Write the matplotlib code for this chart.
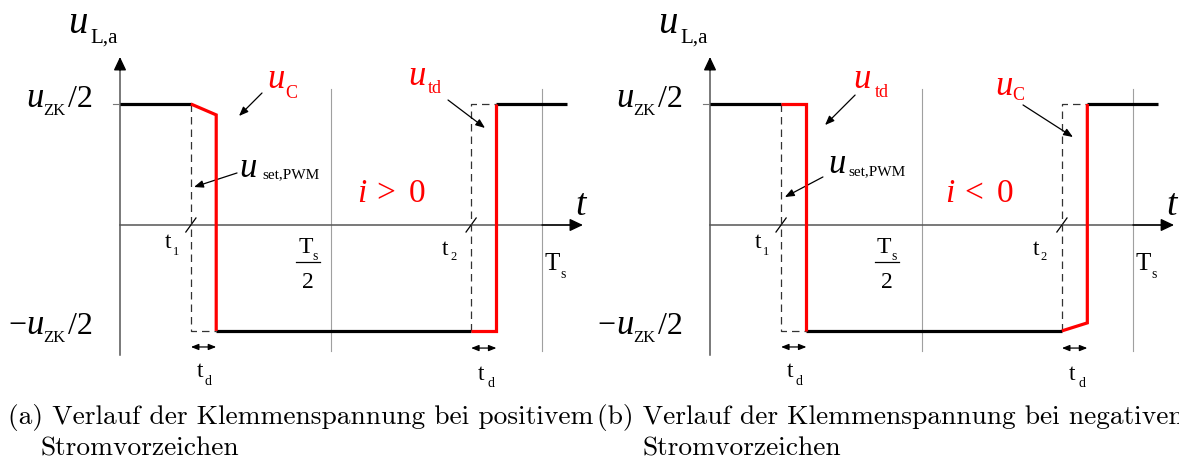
import matplotlib
matplotlib.use("Agg")
import matplotlib.pyplot as plt

SERIF = 'Liberation Serif'
RED = '#ff0000'

# ---------------- data (time in units of T_s, voltage in units of u_ZK/2) ----------------
T_S = 1.0
T1 = 0.168
T2 = 0.832
TD = 0.06
T_END = 1.059
U_HI = 1.0
U_LO = -0.875
UC_DROP_POS = 0.09     # change of u_C during t_d for i > 0
UC_RISE_NEG = 0.066    # change of u_C during t_d for i < 0

# black (ideal) segments, identical in both panels
black_t = [[0.0, T1], [T1 + TD, T2], [T2 + TD, T_END]]
black_u = [[U_HI, U_HI], [U_LO, U_LO], [U_HI, U_HI]]
# dashed set signal u_set,PWM
set_t = [[T1, T1, T1 + TD], [T2, T2, T2 + TD]]
set_u = [[U_HI, U_LO, U_LO], [U_LO, U_HI, U_HI]]
# red error segments
pos_red_t = [[T1, T1 + TD, T1 + TD], [T2, T2 + TD, T2 + TD]]
pos_red_u = [[U_HI, U_HI - UC_DROP_POS, U_LO], [U_LO, U_LO, U_HI]]
neg_red_t = [[T1, T1 + TD, T1 + TD], [T2, T2 + TD, T2 + TD]]
neg_red_u = [[U_HI, U_HI, U_LO], [U_LO, U_LO + UC_RISE_NEG, U_HI]]

current_rel = ['>', '<']
first_red = [('u', 'C'), ('u', 'td')]
second_red = [('u', 'td'), ('u', 'C')]
captions = [("(a) Verlauf der Klemmenspannung bei positivem", "Stromvorzeichen"),
            ("(b) Verlauf der Klemmenspannung bei negativem", "Stromvorzeichen")]

# ---------------- layout ----------------
W, H = 1179, 466
AX_PY, PX_U = 225, 121
fig = plt.figure(figsize=(W / 100, H / 100), dpi=100)

panels = [
    dict(x0=0, w=590, origin=120, scale=422, red_t=pos_red_t, red_u=pos_red_u,
         lab1=((0.348, 1.132), (0.391, 1.050), (0.3365, 1.091), (0.282, 0.901)),
         labset=((0.282, 0.397), (0.337, 0.388), (0.2773, 0.430), (0.1754, 0.314)),
         lab2=((0.6825, 1.157), (0.7299, 1.091), (0.7773, 1.033), (0.8649, 0.802)),
         icur=(0.5616, 0.190), ts2=0.4455),
    dict(x0=590, w=589, origin=710, scale=423, red_t=neg_red_t, red_u=neg_red_u,
         lab1=((0.338, 1.132), (0.390, 1.058), (0.343, 1.074), (0.272, 0.826)),
         labset=((0.279, 0.430), (0.326, 0.413), (0.267, 0.397), (0.177, 0.231)),
         lab2=((0.674, 1.074), (0.714, 1.033), (0.740, 0.992), (0.858, 0.727)),
         icur=(0.556, 0.190), ts2=0.4184),
]


def txt(ax, x, y, s, size, color='black', style='normal', ha='left', family=SERIF):
    ax.text(x, y, s, fontsize=size, color=color, fontstyle=style, family=family,
            ha=ha, va='baseline', clip_on=False)


def arrow(ax, start, end, style='-|>,head_length=0.55,head_width=0.22', lw=0.9, color='black'):
    ax.annotate('', xy=end, xytext=start,
                arrowprops=dict(arrowstyle=style, color=color, lw=lw,
                                shrinkA=0, shrinkB=0, mutation_scale=10))


for i, p in enumerate(panels):
    ax = fig.add_axes([p['x0'] / W, 0, p['w'] / W, 1])
    off = p['origin'] - p['x0']
    ax.set_xlim(-off / p['scale'], (p['w'] - off) / p['scale'])
    ax.set_ylim((AX_PY - H) / PX_U, AX_PY / PX_U)
    ax.axis('off')

    # grid lines at Ts/2 and Ts
    for tg in (T_S / 2, T_S):
        ax.plot([tg, tg], [1.12, -1.04], color='#a0a0a0', lw=0.8, zorder=1)

    # axes
    ax.plot([0, 0], [-1.074, 1.37], color='#555555', lw=1.1, zorder=2)
    arrow(ax, (0, 1.28), (0, 1.388), style='-|>,head_length=0.8,head_width=0.38', lw=1)
    ax.plot([0, 1.08], [0, 0], color='#555555', lw=1.1, zorder=2)
    arrow(ax, (1.0, 0), (1.097, 0), style='-|>,head_length=0.8,head_width=0.38', lw=1)
    ax.plot([-0.017, 0], [U_HI, U_HI], color='#777777', lw=0.8)

    # slash tick marks at t1, t2
    for tk in (T1, T2):
        ax.plot([tk - 0.012, tk + 0.012], [-0.058, 0.058], color='black', lw=0.9, zorder=3)

    # set signal (dashed)
    for tt, uu in zip(set_t, set_u):
        ax.plot(tt, uu, color='#333333', lw=0.9, ls=(0, (6, 4)), zorder=3)
    # black ideal signal
    for tt, uu in zip(black_t, black_u):
        ax.plot(tt, uu, color='black', lw=2.3, solid_capstyle='butt', zorder=4)
    # red error parts
    for tt, uu in zip(p['red_t'], p['red_u']):
        ax.plot(tt, uu, color=RED, lw=2.3, solid_joinstyle='miter', solid_capstyle='butt', zorder=5)

    # t_d double arrows
    for tk, ua in ((T1, -1.008), (T2, -1.017)):
        arrow(ax, (tk, ua), (tk + TD, ua), style='<|-|>,head_length=0.45,head_width=0.18', lw=0.9)

    # ---- y labels ----
    txt(ax, -0.123, 1.587, 'u', 28, style='italic')
    txt(ax, -0.071, 1.512, 'L,a', 15)
    txt(ax, -0.2227, 0.975, 'u', 25, style='italic')
    txt(ax, -0.1825, 0.909, 'ZK', 12)
    txt(ax, -0.1232, 0.975, '/2', 23)
    txt(ax, -0.2227, -0.901, 'u', 25, style='italic')
    txt(ax, -0.1825, -0.967, 'ZK', 12)
    txt(ax, -0.1232, -0.901, '/2', 23)
    txt(ax, -0.2227, -0.901, '\u2212', 23, ha='right')

    # ---- t label ----
    txt(ax, 1.078, 0.083, 't', 27, style='italic')

    # ---- x tick labels ----
    txt(ax, 0.1066, -0.190, 't', 17)
    txt(ax, 0.1256, -0.248, '1', 9)
    c = p['ts2']
    txt(ax, c - 0.0235, -0.231, 'T', 17)
    txt(ax, c + 0.0095, -0.289, 's', 10)
    ax.plot([c - 0.0275, c + 0.0275], [-0.306, -0.306], color='black', lw=0.9)
    txt(ax, c, -0.521, '2', 17, ha='center')
    txt(ax, 0.763, -0.248, 't', 17)
    txt(ax, 0.782, -0.289, '2', 9)
    txt(ax, 1.005, -0.372, 'T', 18)
    txt(ax, 1.043, -0.438, 's', 10)
    txt(ax, 0.182, -1.256, 't', 17)
    txt(ax, 0.201, -1.322, 'd', 10)
    txt(ax, 0.848, -1.281, 't', 17)
    txt(ax, 0.872, -1.339, 'd', 10)

    # ---- red labels with arrows ----
    for lab, (m, s) in ((p['lab1'], first_red[i]), (p['lab2'], second_red[i])):
        txt(ax, lab[0][0], lab[0][1], m, 25, color=RED, style='italic')
        txt(ax, lab[1][0], lab[1][1], s, 13, color=RED)
        arrow(ax, lab[2], lab[3])
    ls = p['labset']
    txt(ax, ls[0][0], ls[0][1], 'u', 25, style='italic')
    txt(ax, ls[1][0], ls[1][1], 'set,PWM', 11)
    arrow(ax, ls[2], ls[3])

    # current sign  i > 0 / i < 0
    ix, iy = p['icur']
    txt(ax, ix, iy, 'i', 24, color=RED, style='italic')
    txt(ax, ix + 0.046, iy, current_rel[i], 24, color=RED)
    txt(ax, ix + 0.122, iy, '0', 24, color=RED)

# ---------------- captions ----------------
cap_x = [(8, 40), (597, 643)]
texts = []
for (l1, l2), (x1, x2) in zip(captions, cap_x):
    a = fig.text(x1 / W, 1 - 424 / H, l1, fontsize=14, family='cmr10', va='baseline')
    b = fig.text(x2 / W, 1 - 455 / H, l2, fontsize=14, family='cmr10', va='baseline')
    texts.append((a, b))
fig.canvas.draw()
wpx = texts[0][0].get_window_extent().width
fs = 14 * 584 / wpx
for a, b in texts:
    a.set_fontsize(fs)
    b.set_fontsize(fs)

fig.savefig('out.png', dpi=100)
